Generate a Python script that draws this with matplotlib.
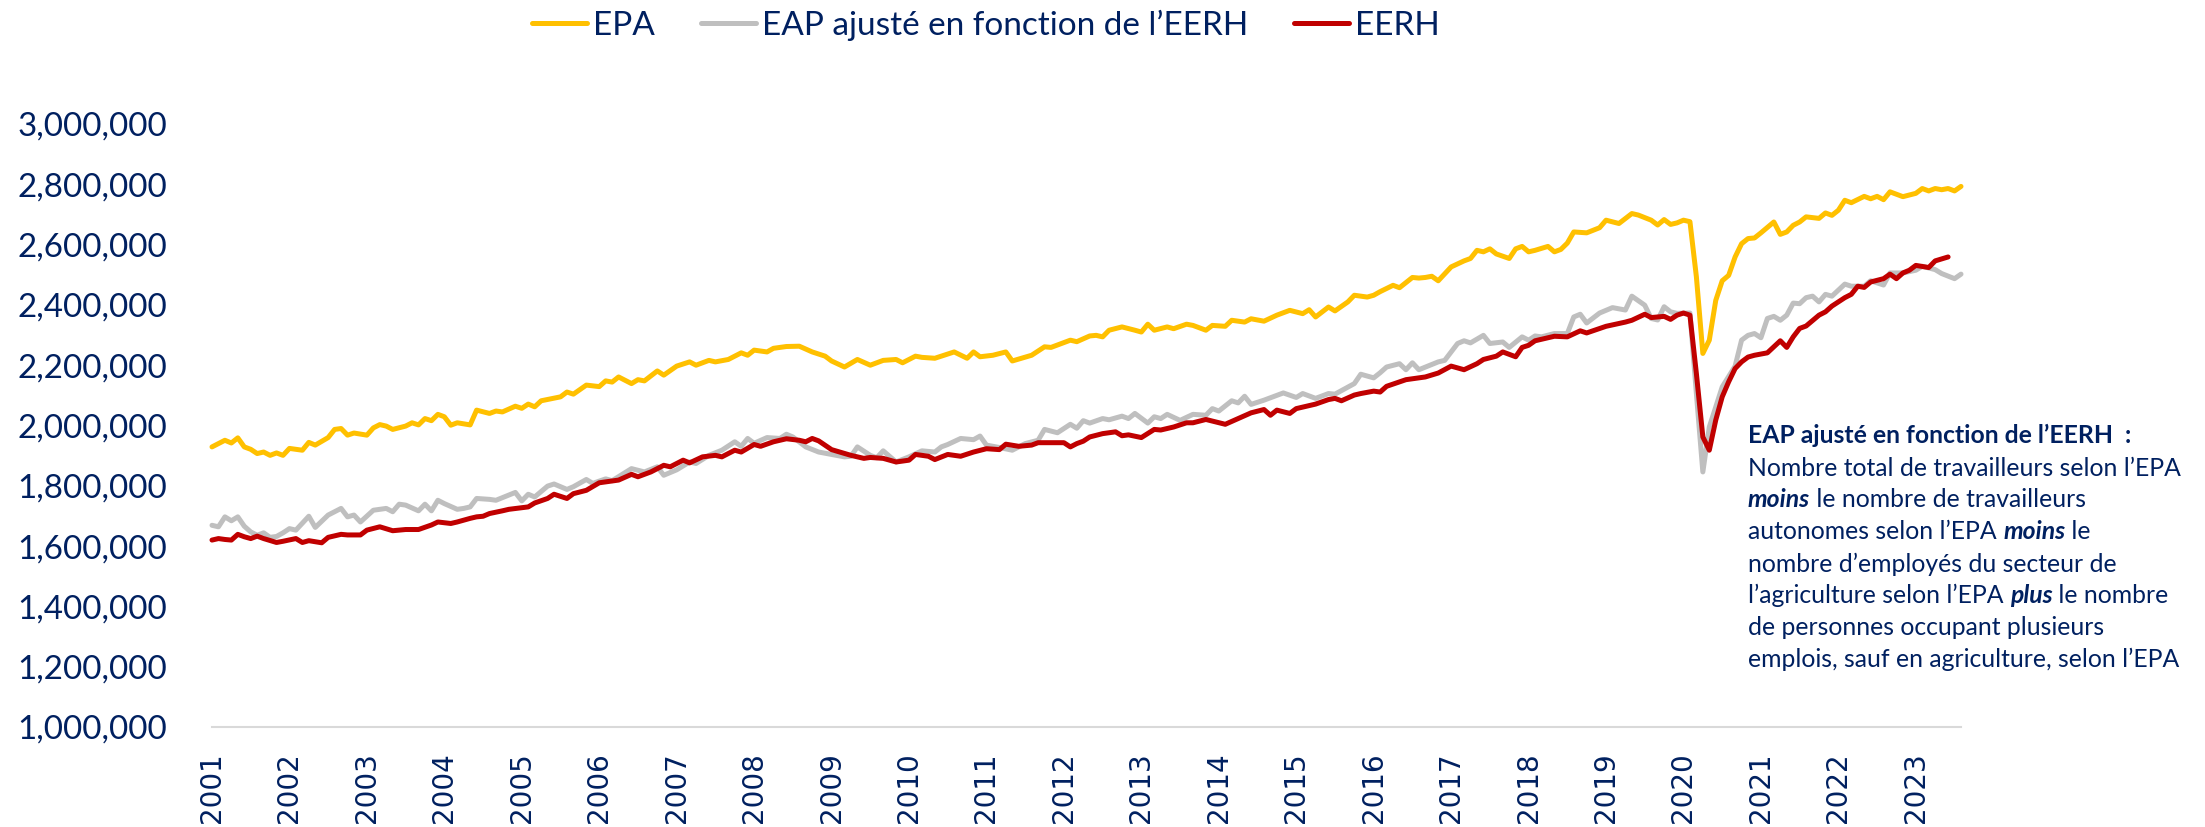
import matplotlib
matplotlib.use("Agg")
import matplotlib.pyplot as plt
from matplotlib.lines import Line2D
from matplotlib.ticker import FuncFormatter
import numpy as np

# ---------------- data (months counted from January 2001; values in thousands) -------------
years = [str(y) for y in range(2001, 2024)]

epa_month = [0, 2, 3, 4, 5, 6, 7, 8, 9, 10, 11, 12, 14, 15, 16, 18, 19, 20, 21, 22, 24, 25, 26, 27, 28, 30,
             31, 32, 33, 34, 35, 36, 37, 38, 40, 41, 43, 44, 45, 47, 48, 49, 50, 51, 54, 55, 56, 58, 60, 61,
             62, 63, 65, 66, 67, 69, 70, 72, 74, 75, 77, 78, 80, 82, 83, 84, 86, 87, 89, 91, 93, 95, 96, 98,
             100, 102, 104, 106, 107, 109, 110, 112, 115, 117, 118, 119, 121, 123, 124, 127, 129, 130, 133,
             134, 136, 137, 138, 139, 141, 143, 144, 145, 146, 148, 149, 151, 152, 154, 155, 157, 158, 160,
             161, 163, 165, 167, 169, 170, 171, 173, 174, 176, 177, 179, 180, 181, 183, 184, 186, 187, 188,
             189, 190, 192, 194, 195, 196, 197, 198, 199, 201, 202, 203, 204, 205, 207, 208, 209, 210, 211,
             213, 215, 216, 218, 220, 221, 223, 224, 225, 226, 227, 228, 229, 230, 231, 232, 233, 234, 235,
             236, 237, 238, 239, 240, 242, 243, 244, 245, 246, 247, 249, 250, 251, 252, 253, 254, 256, 257,
             258, 259, 260, 262, 264, 265, 266, 267, 268, 269, 270, 271]
epa_value = [1929, 1951, 1942, 1959, 1929, 1921, 1907, 1912, 1901, 1909, 1901, 1924, 1918, 1944, 1935, 1960,
             1987, 1990, 1968, 1975, 1968, 1992, 2003, 1998, 1987, 1998, 2009, 2002, 2023, 2016, 2037, 2029,
             2001, 2009, 2002, 2051, 2040, 2048, 2045, 2064, 2057, 2071, 2062, 2082, 2095, 2111, 2104, 2134,
             2129, 2148, 2144, 2161, 2139, 2152, 2148, 2181, 2167, 2197, 2211, 2200, 2216, 2211, 2219, 2241,
             2233, 2250, 2244, 2256, 2262, 2263, 2244, 2230, 2214, 2194, 2219, 2200, 2216, 2219, 2208, 2230,
             2226, 2223, 2244, 2223, 2244, 2228, 2233, 2244, 2214, 2233, 2261, 2259, 2283, 2278, 2297, 2299,
             2294, 2316, 2327, 2316, 2310, 2336, 2316, 2327, 2321, 2336, 2332, 2316, 2332, 2329, 2349, 2343,
             2354, 2346, 2366, 2382, 2371, 2384, 2360, 2393, 2380, 2410, 2432, 2426, 2432, 2444, 2465, 2457,
             2491, 2489, 2491, 2495, 2480, 2526, 2546, 2554, 2581, 2576, 2586, 2569, 2554, 2586, 2594, 2576,
             2581, 2594, 2576, 2584, 2605, 2642, 2639, 2656, 2681, 2670, 2703, 2698, 2681, 2665, 2683, 2667,
             2672, 2681, 2676, 2493, 2239, 2283, 2415, 2480, 2498, 2559, 2603, 2620, 2622, 2639, 2675, 2634,
             2642, 2664, 2675, 2692, 2687, 2705, 2697, 2714, 2747, 2739, 2760, 2752, 2760, 2749, 2775, 2759,
             2770, 2786, 2778, 2786, 2782, 2786, 2778, 2793]

eap_month = [0, 1, 2, 3, 4, 5, 6, 7, 8, 9, 10, 11, 12, 13, 15, 16, 18, 20, 21, 22, 23, 25, 27, 28, 29, 30, 32,
             33, 34, 35, 36, 38, 39, 40, 41, 43, 44, 47, 48, 49, 50, 52, 53, 55, 56, 58, 59, 61, 62, 65, 67,
             69, 70, 72, 74, 75, 77, 79, 81, 82, 83, 84, 86, 88, 89, 90, 92, 94, 98, 99, 100, 102, 103, 104,
             106, 108, 110, 112, 113, 114, 116, 118, 119, 120, 122, 124, 126, 128, 129, 131, 133, 134, 135,
             136, 138, 139, 141, 142, 143, 145, 146, 147, 148, 150, 152, 154, 155, 156, 158, 159, 160, 161,
             163, 166, 168, 169, 171, 173, 174, 177, 178, 180, 181, 182, 184, 185, 186, 187, 190, 191, 193,
             194, 195, 197, 198, 200, 201, 203, 204, 205, 206, 208, 210, 211, 212, 213, 215, 217, 219, 220,
             222, 223, 224, 225, 226, 227, 229, 230, 231, 232, 233, 234, 236, 237, 238, 239, 240, 241, 242,
             243, 244, 245, 246, 247, 248, 249, 250, 251, 253, 254, 256, 257, 259, 260, 262, 264, 265, 267,
             268, 270, 271]
eap_value = [1669, 1664, 1697, 1684, 1697, 1666, 1647, 1636, 1644, 1629, 1632, 1644, 1658, 1653, 1699, 1662,
             1703, 1725, 1697, 1703, 1680, 1719, 1725, 1714, 1739, 1736, 1717, 1739, 1717, 1752, 1741, 1722,
             1725, 1730, 1758, 1755, 1752, 1778, 1750, 1772, 1763, 1799, 1806, 1788, 1797, 1821, 1808, 1823,
             1817, 1857, 1846, 1863, 1835, 1853, 1879, 1874, 1901, 1918, 1946, 1931, 1957, 1941, 1960, 1957,
             1971, 1962, 1929, 1912, 1896, 1898, 1929, 1901, 1893, 1916, 1879, 1896, 1916, 1912, 1929, 1937,
             1957, 1953, 1965, 1935, 1927, 1918, 1940, 1951, 1987, 1976, 2004, 1991, 2016, 2008, 2023, 2019,
             2031, 2023, 2040, 2008, 2029, 2023, 2037, 2017, 2037, 2034, 2056, 2048, 2082, 2075, 2097, 2070,
             2084, 2108, 2093, 2106, 2090, 2106, 2104, 2139, 2170, 2158, 2175, 2194, 2205, 2185, 2208, 2185,
             2211, 2216, 2272, 2281, 2274, 2299, 2272, 2277, 2259, 2294, 2283, 2297, 2294, 2305, 2305, 2360,
             2369, 2340, 2373, 2391, 2383, 2429, 2399, 2355, 2350, 2394, 2377, 2372, 2373, 2106, 1846, 1995,
             2062, 2128, 2197, 2283, 2299, 2305, 2291, 2355, 2362, 2349, 2366, 2406, 2404, 2424, 2429, 2410,
             2435, 2429, 2469, 2462, 2462, 2480, 2466, 2506, 2506, 2515, 2528, 2517, 2504, 2487, 2502]

eerh_month = [0, 1, 2, 3, 4, 5, 6, 7, 8, 10, 11, 13, 14, 15, 17, 18, 20, 21, 23, 24, 26, 28, 30, 32, 34, 35,
              37, 38, 40, 41, 42, 43, 45, 46, 49, 50, 52, 53, 55, 56, 58, 60, 63, 65, 66, 68, 70, 71, 73, 74,
              76, 78, 79, 81, 82, 84, 85, 87, 89, 91, 92, 93, 94, 96, 99, 101, 102, 104, 106, 108, 109, 111,
              112, 114, 116, 118, 120, 122, 123, 125, 127, 128, 130, 132, 133, 134, 135, 136, 138, 140, 141,
              142, 144, 146, 147, 149, 151, 152, 154, 157, 159, 161, 163, 164, 165, 167, 168, 171, 173, 174,
              175, 177, 178, 180, 181, 182, 185, 188, 190, 192, 194, 196, 197, 199, 200, 202, 203, 204, 205,
              208, 210, 212, 213, 216, 219, 220, 222, 223, 225, 226, 227, 228, 229, 230, 231, 232, 233, 234,
              235, 236, 237, 238, 239, 241, 243, 244, 245, 246, 247, 249, 250, 251, 253, 254, 255, 256, 257,
              259, 260, 261, 262, 263, 264, 266, 267, 269]
eerh_value = [1620, 1625, 1622, 1620, 1639, 1631, 1625, 1633, 1625, 1612, 1616, 1625, 1612, 1618, 1611, 1629,
              1639, 1637, 1637, 1653, 1664, 1651, 1655, 1655, 1670, 1680, 1675, 1680, 1692, 1697, 1699, 1708,
              1717, 1722, 1730, 1743, 1758, 1772, 1758, 1774, 1785, 1810, 1819, 1838, 1830, 1846, 1868, 1863,
              1885, 1876, 1896, 1901, 1896, 1918, 1912, 1937, 1931, 1946, 1956, 1951, 1946, 1957, 1949, 1920,
              1901, 1891, 1894, 1891, 1879, 1885, 1904, 1898, 1887, 1904, 1898, 1912, 1923, 1920, 1938, 1931,
              1935, 1943, 1943, 1943, 1929, 1940, 1948, 1962, 1973, 1979, 1966, 1969, 1960, 1987, 1985, 1995,
              2009, 2009, 2020, 2004, 2023, 2042, 2053, 2034, 2051, 2040, 2056, 2071, 2086, 2090, 2082, 2101,
              2106, 2114, 2111, 2130, 2152, 2161, 2174, 2197, 2185, 2205, 2219, 2230, 2244, 2228, 2259, 2266,
              2281, 2296, 2294, 2314, 2307, 2329, 2343, 2349, 2369, 2358, 2362, 2352, 2366, 2373, 2366, 2172,
              1962, 1918, 2018, 2095, 2145, 2189, 2211, 2227, 2233, 2241, 2281, 2259, 2294, 2322, 2330, 2366,
              2377, 2396, 2424, 2435, 2462, 2458, 2476, 2487, 2502, 2487, 2506, 2515, 2531, 2524, 2546, 2559]

series_labels = ["EPA", "EAP ajusté en fonction de l’EERH", "EERH"]
note_title = "EAP ajusté en fonction de l’EERH  :"
note_lines = [
    [("Nombre total de travailleurs selon l’EPA", "normal", "normal")],
    [("moins", "bold", "italic"), (" le nombre de travailleurs", "normal", "normal")],
    [("autonomes selon l’EPA ", "normal", "normal"), ("moins", "bold", "italic"), (" le", "normal", "normal")],
    [("nombre d’employés du secteur de", "normal", "normal")],
    [("l’agriculture selon l’EPA ", "normal", "normal"), ("plus", "bold", "italic"), (" le nombre", "normal", "normal")],
    [("de personnes occupant plusieurs", "normal", "normal")],
    [("emplois, sauf en agriculture, selon l’EPA", "normal", "normal")],
]

# ---------------- style -------------
W, H = 2205, 827
NAVY = "#002060"
COLORS = ["#FFC000", "#BFBFBF", "#C00000"]
FAM = ["Lato", "DejaVu Sans"]
plt.rcParams["font.family"] = FAM

fig = plt.figure(figsize=(W / 100, H / 100), dpi=100)
fig.patch.set_facecolor("white")
renderer = fig.canvas.get_renderer()


def text_px(s, size, weight="normal", style="normal", family=FAM):
    t = fig.text(0, 0, "|" + s + "|", fontsize=size, family=family, weight=weight, style=style)
    w1 = t.get_window_extent(renderer).width
    t.set_text("||")
    w0 = t.get_window_extent(renderer).width
    t.remove()
    return w1 - w0


def fit(s, target, weight="normal"):
    return 20 * target / text_px(s, 20, weight)


L, R, T, B = 212, 1961, 124, 727
ax = fig.add_axes([L / W, 1 - B / H, (R - L) / W, (B - T) / H])

LW = 3.6
for months, vals, col in [(epa_month, epa_value, COLORS[0]),
                          (eap_month, eap_value, COLORS[1]),
                          (eerh_month, eerh_value, COLORS[2])]:
    ax.plot(months, np.array(vals) * 1000, color=col, lw=LW, solid_joinstyle="round",
            solid_capstyle="round", clip_on=False)

ax.set_xlim(0, 271)
ax.set_ylim(1e6, 3e6)
for s in ["top", "right", "left"]:
    ax.spines[s].set_visible(False)
ax.spines["bottom"].set_color("#D9D9D9")
ax.spines["bottom"].set_linewidth(1.5)

ysize = fit("3,000,000", 150)
ax.set_yticks(np.arange(1e6, 3.0001e6, 2e5))
ax.yaxis.set_major_formatter(FuncFormatter(lambda v, _: f"{v:,.0f}"))
ax.tick_params(axis="y", length=0, pad=45 * 0.72, labelsize=ysize, labelcolor=NAVY)

ax.set_xticks(np.arange(0, 12 * len(years), 12))
ax.set_xticklabels(years, rotation=90, fontsize=20, family="DejaVu Sans", color=NAVY)
ax.tick_params(axis="x", length=0, pad=25 * 0.72)

# legend
lsize = fit(series_labels[1], 488)
lpx = lsize / 0.72
handles = [Line2D([], [], color=c, lw=LW, solid_capstyle="round") for c in COLORS]
fig.legend(handles, series_labels, loc="center", bbox_to_anchor=(986 / W, 1 - 25 / H), ncol=3,
           frameon=False, prop={"family": FAM, "size": lsize}, labelcolor=NAVY,
           handlelength=55 / lpx, handletextpad=6 / lpx, columnspacing=46 / lpx,
           borderpad=0, borderaxespad=0)

# side note
nsize = fit(note_lines[0][0][0], 432)
x0 = 1748
fig.text(x0 / W, 1 - 443 / H, note_title, fontsize=nsize, weight="bold", color=NAVY, va="baseline")
baselines = [476, 507, 539, 572, 603, 635, 667]
for segs, yb in zip(note_lines, baselines):
    x = x0
    for s, wgt, sty in segs:
        fig.text(x / W, 1 - yb / H, s, fontsize=nsize, weight=wgt, style=sty, color=NAVY, va="baseline")
        x += text_px(s, nsize, wgt, sty)

fig.savefig("out.png", dpi=100, facecolor="white")
